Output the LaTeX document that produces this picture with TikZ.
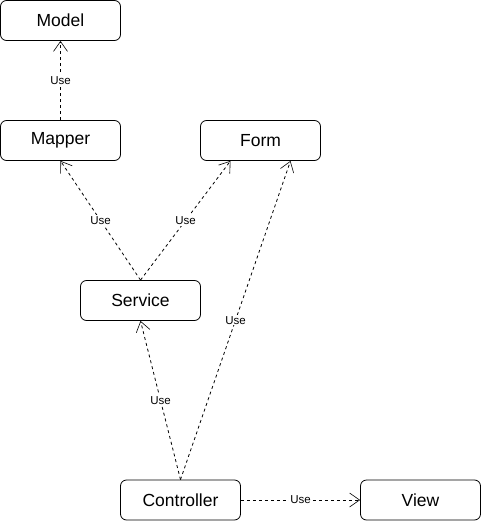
\documentclass[tikz,border=0pt]{standalone}
\usepackage{fontspec}
\setmainfont{Liberation Sans}
\usetikzlibrary{arrows.meta}

\tikzset{
  box/.style={draw,rounded corners=6pt,minimum width=120pt,minimum height=40pt,inner sep=0pt,font=\fontsize{17.5}{19}\selectfont},
  use/.style={dashed,dash pattern=on 3pt off 3pt,-{Straight Barb[length=10pt,width=14pt,line width=0.6pt]}},
  lbl/.style={fill=white,inner sep=1pt,font=\fontsize{11.5}{12}\selectfont}
}

\begin{document}
\begin{tikzpicture}[x=1pt,y=-1pt,line width=0.8pt]
            \useasboundingbox (0,0) rectangle (481,521);
            \node[box] (model) at (60.5,20.5) {Model};
            \node[box] (mapper) at (60.5,140.5) {Mapper};
            \node[box] (form) at (260.5,140.5) {Form};
            \node[box] (service) at (140.5,300.5) {Service};
            \node[box] (controller) at (180.5,500) {Controller};
            \node[box] (view) at (420.5,500) {View};

            \draw[use] (mapper.north)--(model.south) node[midway,lbl]{Use};
            \draw[use] (service.north)--(mapper.south) node[midway,lbl]{Use};
            \draw[use] (service.north)--([xshift=-30pt]form.south) node[midway,lbl]{Use};
            \draw[use] (controller.north)--(service.south) node[midway,lbl]{Use};
            \draw[use] (controller.north)--([xshift=30pt]form.south) node[midway,lbl]{Use};
            \draw[use] (controller.east)--(view.west) node[midway,lbl]{Use};
        \end{tikzpicture}
\end{document}
